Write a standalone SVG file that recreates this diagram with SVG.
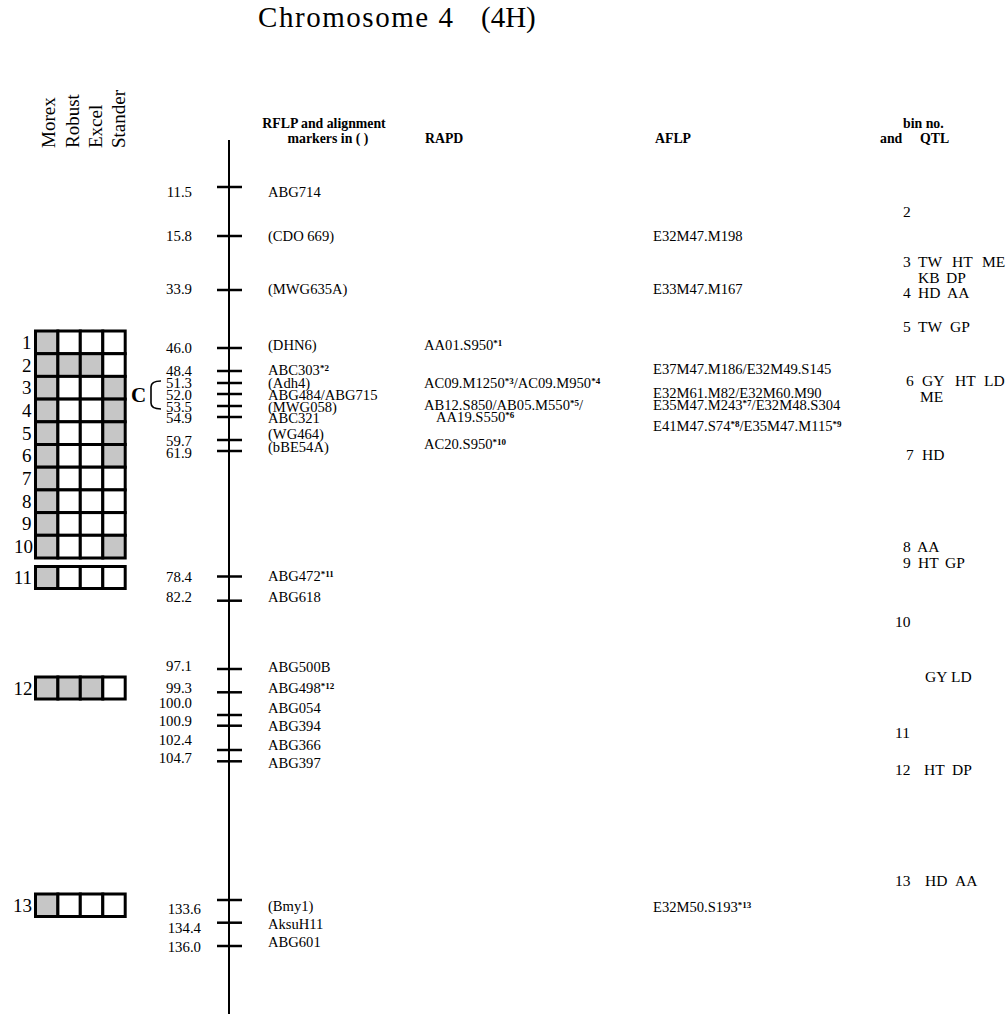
<svg xmlns="http://www.w3.org/2000/svg" width="1008" height="1014" viewBox="0 0 1008 1014">
<style>
text{font-family:"Liberation Serif","Times New Roman",serif;fill:#000}
.t{font-size:14.6px}
.q{font-size:15.5px}
.n{font-size:14.8px;text-anchor:end}
.h{font-size:13.8px;font-weight:bold}
.v{font-size:19px}
.r{font-size:19px;text-anchor:end}
.s{font-size:9px;font-weight:bold}
.tick{stroke:#000;stroke-width:2.5}
.cell{stroke:#000;stroke-width:3;fill:#fff}
.cell.g{fill:#c6c6c6}
</style>
<rect width="1008" height="1014" fill="#fff"/>
<g id="title">
<text x="258" y="27" font-size="29" textLength="195">Chromosome 4</text>
<text x="481" y="27" font-size="29">(4H)</text>
</g>
<g id="cultivars">
<text class="v" transform="translate(55,148) rotate(-90)">Morex</text>
<text class="v" transform="translate(78.5,148) rotate(-90)">Robust</text>
<text class="v" transform="translate(102,148) rotate(-90)">Excel</text>
<text class="v" transform="translate(125,148) rotate(-90)">Stander</text>
</g>
<g id="headers">
<text class="h" x="324" y="128" text-anchor="middle">RFLP and alignment</text>
<text class="h" x="328" y="143" text-anchor="middle">markers in ( )</text>
<text class="h" x="425" y="143">RAPD</text>
<text class="h" x="655" y="143">AFLP</text>
<text class="h" x="903" y="128">bin no.</text>
<text class="h" x="880" y="143">and</text>
<text class="h" x="920" y="143">QTL</text>
</g>
<g id="haplotypes">
<g id="row1"><text class="r" x="31.5" y="349">1</text>
<rect class="cell g" x="35.5" y="331" width="22.4" height="22.7"/><rect class="cell" x="57.9" y="331" width="22.4" height="22.7"/><rect class="cell" x="80.3" y="331" width="22.5" height="22.7"/><rect class="cell" x="102.8" y="331" width="22.4" height="22.7"/></g>
<g id="row2"><text class="r" x="31.5" y="371.5">2</text>
<rect class="cell g" x="35.5" y="353.7" width="22.4" height="22.7"/><rect class="cell g" x="57.9" y="353.7" width="22.4" height="22.7"/><rect class="cell g" x="80.3" y="353.7" width="22.5" height="22.7"/><rect class="cell" x="102.8" y="353.7" width="22.4" height="22.7"/></g>
<g id="row3"><text class="r" x="31.5" y="394.2">3</text>
<rect class="cell g" x="35.5" y="376.4" width="22.4" height="22.7"/><rect class="cell" x="57.9" y="376.4" width="22.4" height="22.7"/><rect class="cell" x="80.3" y="376.4" width="22.5" height="22.7"/><rect class="cell g" x="102.8" y="376.4" width="22.4" height="22.7"/></g>
<g id="row4"><text class="r" x="31.5" y="416.9">4</text>
<rect class="cell g" x="35.5" y="399.1" width="22.4" height="22.7"/><rect class="cell" x="57.9" y="399.1" width="22.4" height="22.7"/><rect class="cell" x="80.3" y="399.1" width="22.5" height="22.7"/><rect class="cell g" x="102.8" y="399.1" width="22.4" height="22.7"/></g>
<g id="row5"><text class="r" x="31.5" y="439.6">5</text>
<rect class="cell g" x="35.5" y="421.8" width="22.4" height="22.7"/><rect class="cell" x="57.9" y="421.8" width="22.4" height="22.7"/><rect class="cell" x="80.3" y="421.8" width="22.5" height="22.7"/><rect class="cell g" x="102.8" y="421.8" width="22.4" height="22.7"/></g>
<g id="row6"><text class="r" x="31.5" y="462.3">6</text>
<rect class="cell g" x="35.5" y="444.5" width="22.4" height="22.7"/><rect class="cell" x="57.9" y="444.5" width="22.4" height="22.7"/><rect class="cell" x="80.3" y="444.5" width="22.5" height="22.7"/><rect class="cell g" x="102.8" y="444.5" width="22.4" height="22.7"/></g>
<g id="row7"><text class="r" x="31.5" y="485">7</text>
<rect class="cell g" x="35.5" y="467.2" width="22.4" height="22.7"/><rect class="cell" x="57.9" y="467.2" width="22.4" height="22.7"/><rect class="cell" x="80.3" y="467.2" width="22.5" height="22.7"/><rect class="cell" x="102.8" y="467.2" width="22.4" height="22.7"/></g>
<g id="row8"><text class="r" x="31.5" y="507.7">8</text>
<rect class="cell g" x="35.5" y="489.9" width="22.4" height="22.7"/><rect class="cell" x="57.9" y="489.9" width="22.4" height="22.7"/><rect class="cell" x="80.3" y="489.9" width="22.5" height="22.7"/><rect class="cell" x="102.8" y="489.9" width="22.4" height="22.7"/></g>
<g id="row9"><text class="r" x="31.5" y="530.4">9</text>
<rect class="cell g" x="35.5" y="512.6" width="22.4" height="22.7"/><rect class="cell" x="57.9" y="512.6" width="22.4" height="22.7"/><rect class="cell" x="80.3" y="512.6" width="22.5" height="22.7"/><rect class="cell" x="102.8" y="512.6" width="22.4" height="22.7"/></g>
<g id="row10"><text class="r" x="33" y="553.1">10</text>
<rect class="cell g" x="35.5" y="535.3" width="22.4" height="22.7"/><rect class="cell" x="57.9" y="535.3" width="22.4" height="22.7"/><rect class="cell" x="80.3" y="535.3" width="22.5" height="22.7"/><rect class="cell g" x="102.8" y="535.3" width="22.4" height="22.7"/></g>
<g id="row11"><text class="r" x="32" y="584">11</text>
<rect class="cell g" x="35.5" y="566.5" width="22.4" height="22"/><rect class="cell" x="57.9" y="566.5" width="22.4" height="22"/><rect class="cell" x="80.3" y="566.5" width="22.5" height="22"/><rect class="cell" x="102.8" y="566.5" width="22.4" height="22"/></g>
<g id="row12"><text class="r" x="32.5" y="694.5">12</text>
<rect class="cell g" x="35.5" y="677" width="22.4" height="22"/><rect class="cell g" x="57.9" y="677" width="22.4" height="22"/><rect class="cell g" x="80.3" y="677" width="22.5" height="22"/><rect class="cell" x="102.8" y="677" width="22.4" height="22"/></g>
<g id="row13"><text class="r" x="32" y="911.5">13</text>
<rect class="cell g" x="35.5" y="894" width="22.4" height="22.5"/><rect class="cell" x="57.9" y="894" width="22.4" height="22.5"/><rect class="cell" x="80.3" y="894" width="22.5" height="22.5"/><rect class="cell" x="102.8" y="894" width="22.4" height="22.5"/></g>
</g>
<g id="cluster-C">
<text x="131" y="402" font-size="21" font-weight="bold">C</text>
<path d="M161,381 Q151,381 151,387 L151,403 Q151,409 161,409" fill="none" stroke="#000" stroke-width="1.6"/>
</g>
<g id="connectors">
<line x1="229" y1="140" x2="229" y2="1014" stroke="#000" stroke-width="2"/>
<g class="tick">
<line x1="217" y1="187" x2="242" y2="187"/>
<line x1="217" y1="236" x2="242" y2="236"/>
<line x1="217" y1="290" x2="242" y2="290"/>
<line x1="217" y1="348" x2="242" y2="348"/>
<line x1="217" y1="371" x2="242" y2="371"/>
<line x1="217" y1="383" x2="242" y2="383"/>
<line x1="217" y1="394" x2="242" y2="394"/>
<line x1="217" y1="406" x2="242" y2="406"/>
<line x1="217" y1="417" x2="242" y2="417"/>
<line x1="217" y1="440" x2="242" y2="440"/>
<line x1="217" y1="451" x2="242" y2="451"/>
<line x1="217" y1="576.5" x2="242" y2="576.5"/>
<line x1="217" y1="600.7" x2="242" y2="600.7"/>
<line x1="217" y1="669" x2="242" y2="669"/>
<line x1="217" y1="692.3" x2="242" y2="692.3"/>
<line x1="217" y1="715" x2="242" y2="715"/>
<line x1="217" y1="725.7" x2="242" y2="725.7"/>
<line x1="217" y1="750" x2="242" y2="750"/>
<line x1="217" y1="761.3" x2="242" y2="761.3"/>
<line x1="217" y1="900" x2="242" y2="900"/>
<line x1="217" y1="922.7" x2="242" y2="922.7"/>
<line x1="217" y1="946" x2="242" y2="946"/>
</g>
</g>
<g id="positions">
<text class="n" x="192" y="197">11.5</text>
<text class="n" x="192" y="241">15.8</text>
<text class="n" x="192" y="294">33.9</text>
<text class="n" x="192" y="352.5">46.0</text>
<text class="n" x="192" y="376">48.4</text>
<text class="n" x="192" y="388">51.3</text>
<text class="n" x="192" y="400">52.0</text>
<text class="n" x="192" y="411.5">53.5</text>
<text class="n" x="192" y="422.5">54.9</text>
<text class="n" x="192" y="446">59.7</text>
<text class="n" x="192" y="457.5">61.9</text>
<text class="n" x="192" y="581.5">78.4</text>
<text class="n" x="192" y="601.7">82.2</text>
<text class="n" x="192" y="671">97.1</text>
<text class="n" x="192" y="693.3">99.3</text>
<text class="n" x="192" y="708">100.0</text>
<text class="n" x="192" y="726">100.9</text>
<text class="n" x="192" y="745">102.4</text>
<text class="n" x="192" y="763">104.7</text>
<text class="n" x="201" y="914">133.6</text>
<text class="n" x="201" y="933">134.4</text>
<text class="n" x="201" y="951.5">136.0</text>
</g>
<g id="rflp">
<text class="t" x="268" y="197">ABG714</text>
<text class="t" x="268" y="241">(CDO 669)</text>
<text class="t" x="268" y="294">(MWG635A)</text>
<text class="t" x="268" y="350">(DHN6)</text>
<text class="t" x="268" y="375">ABC303<tspan class="s" dy="-4">*2</tspan></text>
<text class="t" x="268" y="387.5">(Adh4)</text>
<text class="t" x="268" y="399.5">ABG484/ABG715</text>
<text class="t" x="268" y="411.5">(MWG058)</text>
<text class="t" x="268" y="423">ABC321</text>
<text class="t" x="268" y="439">(WG464)</text>
<text class="t" x="268" y="452">(bBE54A)</text>
<text class="t" x="268" y="581">ABG472<tspan class="s" dy="-4">*11</tspan></text>
<text class="t" x="268" y="602">ABG618</text>
<text class="t" x="268" y="672">ABG500B</text>
<text class="t" x="268" y="693">ABG498<tspan class="s" dy="-4">*12</tspan></text>
<text class="t" x="268" y="713">ABG054</text>
<text class="t" x="268" y="731">ABG394</text>
<text class="t" x="268" y="750">ABG366</text>
<text class="t" x="268" y="767.5">ABG397</text>
<text class="t" x="268" y="911">(Bmy1)</text>
<text class="t" x="268" y="929">AksuH11</text>
<text class="t" x="268" y="947">ABG601</text>
</g>
<g id="rapd">
<text class="t" x="424" y="350">AA01.S950<tspan class="s" dy="-4">*1</tspan></text>
<text class="t" x="424" y="387.5">AC09.M1250<tspan class="s" dy="-4">*3</tspan><tspan dy="4">/AC09.M950</tspan><tspan class="s" dy="-4">*4</tspan></text>
<text class="t" x="424" y="410">AB12.S850/AB05.M550<tspan class="s" dy="-4">*5</tspan><tspan dy="4">/</tspan></text>
<text class="t" x="436" y="421.5">AA19.S550<tspan class="s" dy="-4">*6</tspan></text>
<text class="t" x="424" y="449">AC20.S950<tspan class="s" dy="-4">*10</tspan></text>
</g>
<g id="aflp">
<text class="t" x="653" y="241">E32M47.M198</text>
<text class="t" x="653" y="294">E33M47.M167</text>
<text class="t" x="653" y="374">E37M47.M186/E32M49.S145</text>
<text class="t" x="653" y="397.5">E32M61.M82/E32M60.M90</text>
<text class="t" x="653" y="409.5">E35M47.M243<tspan class="s" dy="-4">*7</tspan><tspan dy="4">/E32M48.S304</tspan></text>
<text class="t" x="653" y="431">E41M47.S74<tspan class="s" dy="-4">*8</tspan><tspan dy="4">/E35M47.M115</tspan><tspan class="s" dy="-4">*9</tspan></text>
<text class="t" x="653" y="912">E32M50.S193<tspan class="s" dy="-4">*13</tspan></text>
</g>
<g id="qtl">
<text class="q" y="217"><tspan x="903">2</tspan></text>
<text class="q" y="267"><tspan x="903">3</tspan><tspan x="918">TW</tspan><tspan x="952">HT</tspan><tspan x="982">ME</tspan></text>
<text class="q" y="283"><tspan x="918">KB</tspan><tspan x="946">DP</tspan></text>
<text class="q" y="298"><tspan x="903">4</tspan><tspan x="918">HD</tspan><tspan x="947">AA</tspan></text>
<text class="q" y="332"><tspan x="903">5</tspan><tspan x="918">TW</tspan><tspan x="950">GP</tspan></text>
<text class="q" y="386"><tspan x="906">6</tspan><tspan x="922">GY</tspan><tspan x="955">HT</tspan><tspan x="984">LD</tspan></text>
<text class="q" y="402"><tspan x="920">ME</tspan></text>
<text class="q" y="460"><tspan x="906">7</tspan><tspan x="922">HD</tspan></text>
<text class="q" y="552"><tspan x="903">8</tspan><tspan x="917">AA</tspan></text>
<text class="q" y="568"><tspan x="903">9</tspan><tspan x="918">HT</tspan><tspan x="945">GP</tspan></text>
<text class="q" y="627"><tspan x="895">10</tspan></text>
<text class="q" y="682"><tspan x="925">GY</tspan><tspan x="951">LD</tspan></text>
<text class="q" y="738"><tspan x="895">11</tspan></text>
<text class="q" y="775"><tspan x="895">12</tspan><tspan x="924">HT</tspan><tspan x="952">DP</tspan></text>
<text class="q" y="886"><tspan x="895">13</tspan><tspan x="925">HD</tspan><tspan x="955">AA</tspan></text>
</g>
</svg>
